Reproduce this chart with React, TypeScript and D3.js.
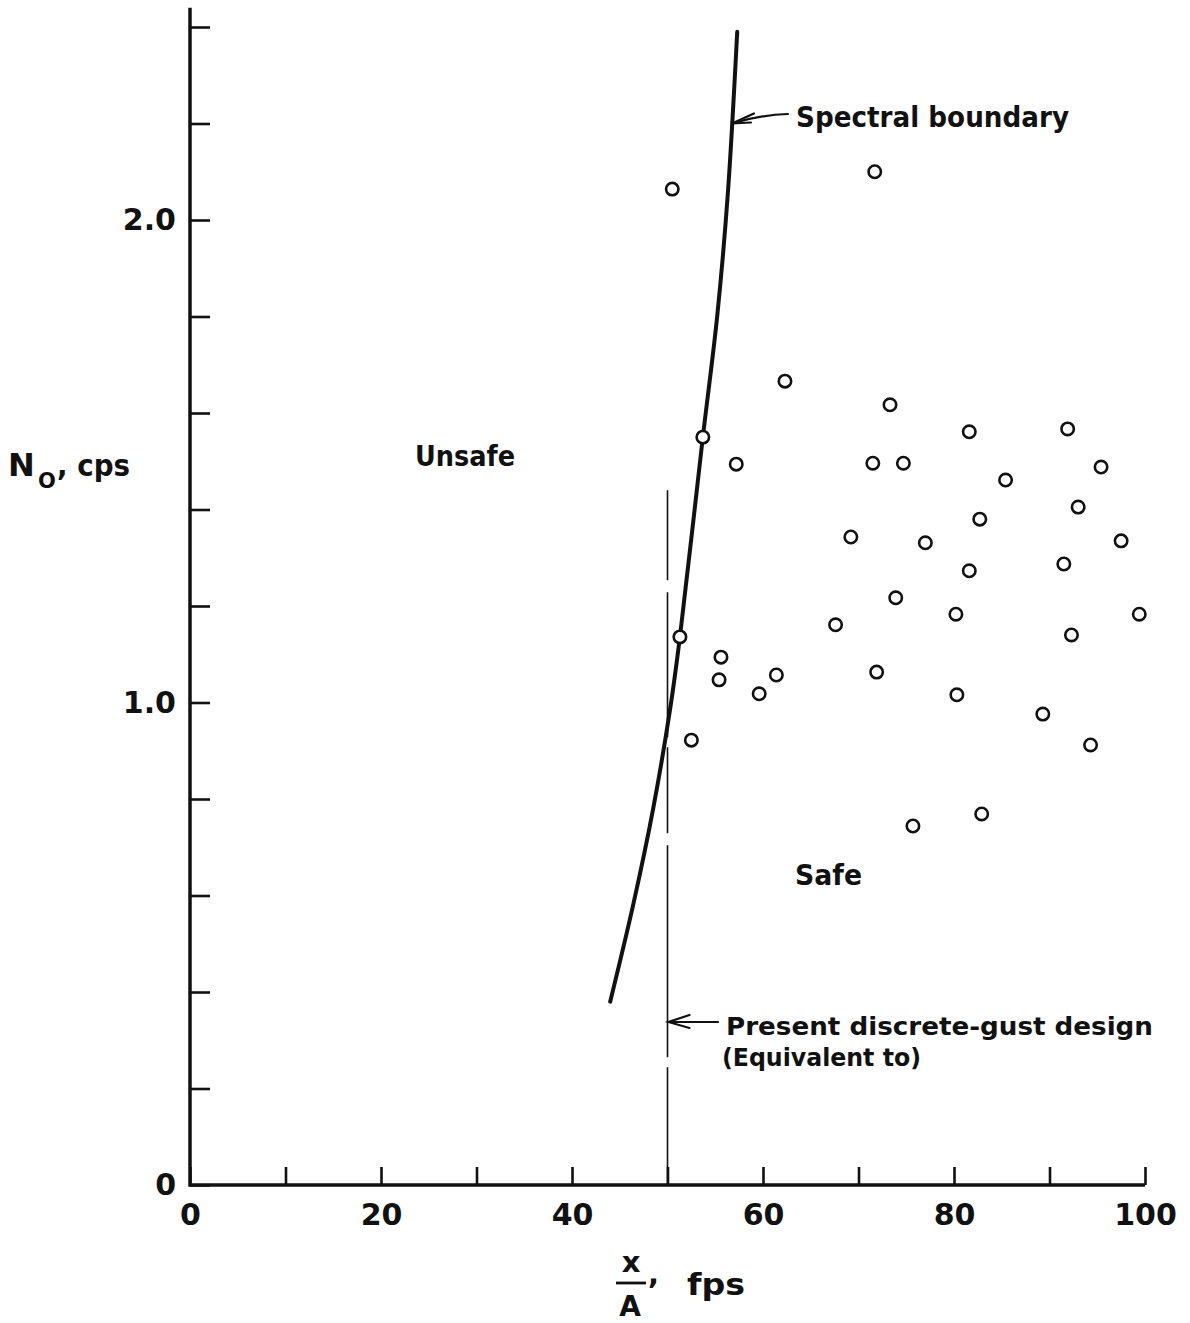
import * as d3 from "d3";
import { useEffect, useRef } from "react";

// measured points, x/A (fps) and N0 (cps)
const speed = [50.5, 71.7, 62.3, 73.3, 53.7, 57.2, 71.5, 74.7, 81.6, 91.9, 95.4, 85.4, 93.0, 82.7, 69.2, 77.0, 97.5, 81.6, 91.5, 73.9, 67.6, 80.2, 99.4, 92.3, 51.3, 55.6, 55.4, 61.4, 59.6, 71.9, 80.3, 89.3, 52.5, 94.3, 75.7, 82.9];
const freq = [2.064, 2.1, 1.666, 1.617, 1.55, 1.494, 1.496, 1.496, 1.561, 1.567, 1.488, 1.461, 1.405, 1.38, 1.343, 1.331, 1.335, 1.273, 1.287, 1.217, 1.161, 1.183, 1.183, 1.14, 1.136, 1.094, 1.047, 1.057, 1.018, 1.063, 1.016, 0.976, 0.922, 0.912, 0.744, 0.769];

// spectral boundary curve
const boundaryX = [44.0, 46.4, 48.5, 50.3, 51.3, 53.7, 55.2, 56.3, 57.3];
const boundaryY = [0.38, 0.58, 0.78, 0.99, 1.136, 1.55, 1.8, 2.05, 2.39];

// present discrete-gust design line
const gustX = 50;
const gustTop = 1.44;

const xTickLabels = [0, 20, 40, 60, 80, 100];
const yTickLabels = [0, 1, 2];

const FONT = "'DejaVu Sans', 'Liberation Sans', sans-serif";
const INK = "#111";

export default function App() {
  const ref = useRef<SVGSVGElement>(null);

  useEffect(() => {
    const svg = d3.select(ref.current);
    svg.selectAll("*").remove();

    const x = d3.scaleLinear().domain([0, 100]).range([190, 1145]);
    const y = d3.scaleLinear().domain([0, 2.4]).range([1185, 27]);

    // y axis, ticks pointing inward
    const yAxis = d3
      .axisLeft(y)
      .tickValues(d3.range(0, 2.41, 0.2))
      .tickSize(-20)
      .tickPadding(14)
      .tickFormat((d) => {
        const v = +d;
        const hit = yTickLabels.find((t) => Math.abs(t - v) < 1e-6);
        if (hit === undefined) return "";
        return hit === 0 ? "0" : hit.toFixed(1);
      });
    const gy = svg.append("g").attr("transform", "translate(190,0)").call(yAxis);
    gy.select(".domain").remove();
    gy.selectAll("line").attr("stroke", INK).attr("stroke-width", 2.6);
    gy.selectAll("text")
      .attr("fill", INK)
      .style("font-family", FONT)
      .style("font-weight", "bold")
      .style("font-size", "30px");

    // x axis
    const xAxis = d3
      .axisBottom(x)
      .tickValues(d3.range(0, 101, 10))
      .tickSize(-18)
      .tickPadding(19)
      .tickFormat((d) => (xTickLabels.includes(+d) ? String(d) : ""));
    const gx = svg.append("g").attr("transform", "translate(0,1185)").call(xAxis);
    gx.select(".domain").remove();
    gx.selectAll("line").attr("stroke", INK).attr("stroke-width", 2.6);
    gx.selectAll("text")
      .attr("fill", INK)
      .style("font-family", FONT)
      .style("font-weight", "bold")
      .style("font-size", "30px");

    // axis lines
    svg
      .append("path")
      .attr("d", `M${x(0)},${y(2.44)}V${y(0)}H${x(100)}`)
      .attr("fill", "none")
      .attr("stroke", INK)
      .attr("stroke-width", 3.5);

    // discrete-gust line
    svg
      .append("line")
      .attr("x1", x(gustX))
      .attr("x2", x(gustX))
      .attr("y1", y(gustTop))
      .attr("y2", y(0))
      .attr("stroke", INK)
      .attr("stroke-width", 1.6)
      .attr("stroke-dasharray", "90 12 145 10 86 12 212 10 400");

    // spectral boundary
    const line = d3
      .line<number>()
      .x((d, i) => x(boundaryX[i]))
      .y((d) => y(d))
      .curve(d3.curveCatmullRom.alpha(0.5));
    svg
      .append("path")
      .datum(boundaryY)
      .attr("d", line)
      .attr("fill", "none")
      .attr("stroke", INK)
      .attr("stroke-width", 4)
      .attr("stroke-linecap", "round");

    // data points
    svg
      .append("g")
      .selectAll("circle")
      .data(speed)
      .enter()
      .append("circle")
      .attr("cx", (d) => x(d))
      .attr("cy", (d, i) => y(freq[i]))
      .attr("r", 6.2)
      .attr("fill", "#fff")
      .attr("stroke", INK)
      .attr("stroke-width", 2.6);

    const txt = (s: string, tx: number, ty: number, size: number, len?: number, anchor = "start") => {
      const t = svg
        .append("text")
        .attr("x", tx)
        .attr("y", ty)
        .attr("fill", INK)
        .attr("text-anchor", anchor)
        .style("font-family", FONT)
        .style("font-weight", "bold")
        .style("font-size", size + "px")
        .text(s);
      if (len) t.attr("textLength", len).attr("lengthAdjust", "spacingAndGlyphs");
      return t;
    };

    // annotations
    txt("Spectral boundary", 796, 127, 29, 273);
    txt("Unsafe", 415, 466, 29, 100);
    txt("Safe", 795, 885, 29, 67);
    txt("Present discrete-gust design", 726, 1035, 24, 427);
    txt("(Equivalent to)", 722, 1066, 24, 199);

    const arrow = (path: string) =>
      svg
        .append("path")
        .attr("d", path)
        .attr("fill", "none")
        .attr("stroke", INK)
        .attr("stroke-width", 2.2)
        .attr("stroke-linecap", "round");

    const sx = x(56.75), sy = y(2.2);
    arrow(`M788,114Q760,115 ${sx},${sy}`);
    arrow(`M${sx + 22},${sy - 10}L${sx},${sy}L${sx + 19},${sy - 1}`);

    const gxp = x(gustX), gyp = 1022;
    arrow(`M718,${gyp}H${gxp + 1}`);
    arrow(`M${gxp + 22},${gyp - 7}L${gxp + 1},${gyp}L${gxp + 22},${gyp + 6}`);

    // y axis label: N0, cps
    txt("N", 8, 476, 32);
    txt("O", 38, 488, 21);
    txt(", cps", 57, 476, 31, 73);

    // x axis label: x/A, fps
    txt("x", 631, 1272, 29, undefined, "middle");
    svg
      .append("line")
      .attr("x1", 616)
      .attr("x2", 646)
      .attr("y1", 1283)
      .attr("y2", 1283)
      .attr("stroke", INK)
      .attr("stroke-width", 2.8);
    txt("A", 630, 1316, 28, undefined, "middle");
    txt(",", 648, 1284, 29);
    txt("fps", 687, 1295, 30, 58);
  }, []);

  return (
    <svg
      ref={ref}
      width={1190}
      height={1323}
      style={{ position: "absolute", left: 0, top: 0, background: "#fff" }}
    />
  );
}
